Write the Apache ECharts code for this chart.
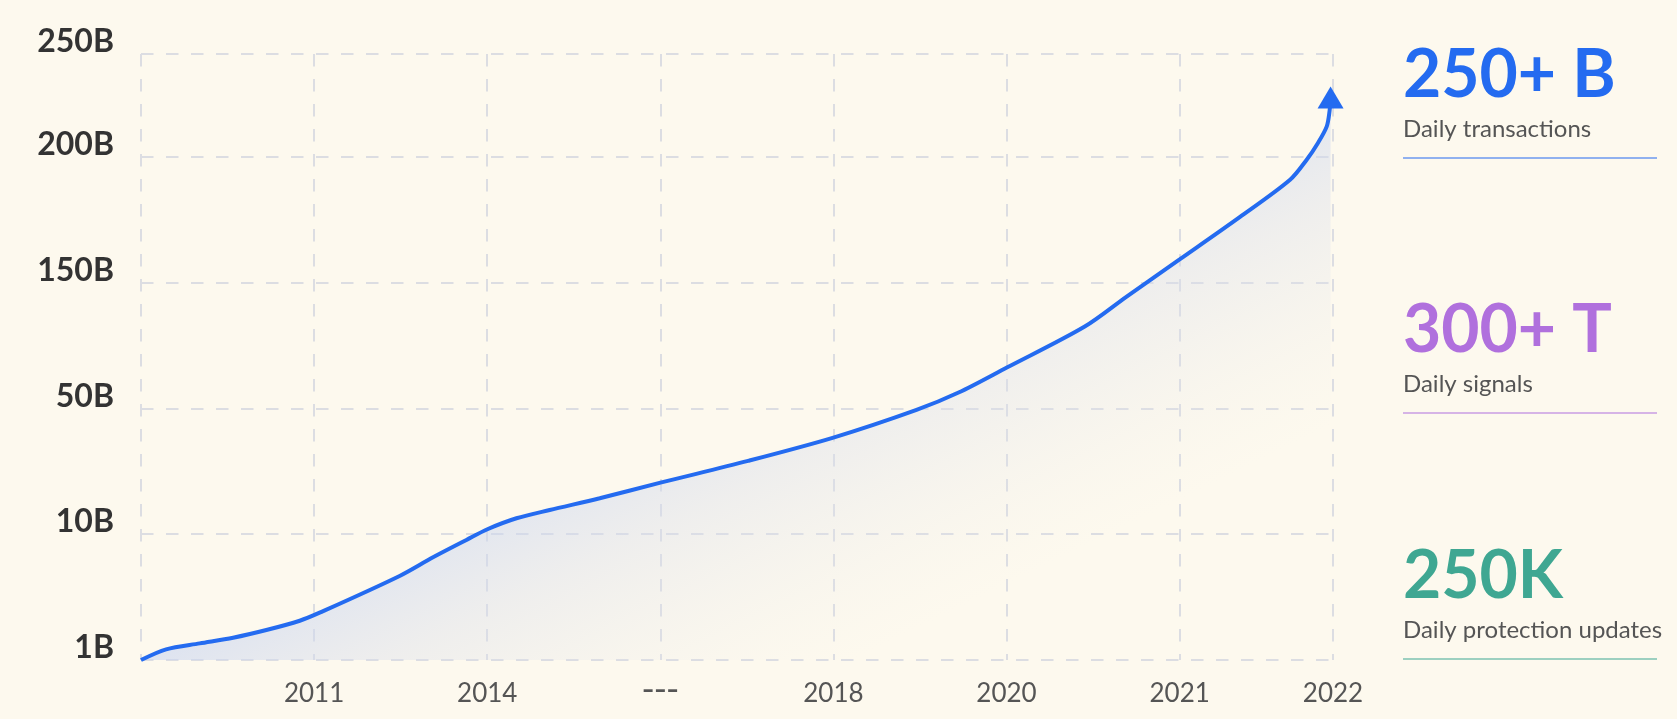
<!DOCTYPE html>
<html>
<head>
<meta charset="utf-8">
<title>Daily transactions growth</title>
<script src="https://cdn.jsdelivr.net/npm/echarts@6/dist/echarts.min.js"></script>
<style>
  html, body {
    margin: 0;
    padding: 0;
    background: #fdf9ee;
  }
  #chart {
    width: 1677px;
    height: 719px;
  }
</style>
</head>
<body>
<div id="chart"></div>
<script>
// tick labels (the axes are stylised: each grid step is one label, not a linear scale)
const xTickLabels = ['', '2011', '2014', '---', '2018', '2020', '2021', '2022']
const yTickLabels = ['1B', '10B', '50B', '150B', '200B', '250B']

// curve, in grid steps (x: step from left edge, y: step from bottom)
const growthX = [0, 0.145, 0.339, 0.532, 0.724, 0.917, 1.032, 1.494, 1.687, 1.88, 2.001, 2.169, 2.361, 2.65,
  3.001, 3.507, 4.0, 4.48, 4.723, 5.002, 5.452, 5.694, 6.002, 6.347, 6.638, 6.734, 6.8, 6.85, 6.866, 6.872]
const growthY = [0, 0.085, 0.132, 0.177, 0.238, 0.312, 0.376, 0.668, 0.816, 0.954, 1.039, 1.126, 1.192, 1.285,
  1.409, 1.582, 1.767, 1.987, 2.125, 2.324, 2.65, 2.888, 3.185, 3.519, 3.816, 3.975, 4.11, 4.24, 4.36, 4.47]

// side stats
const statValues = ['250+ B', '300+ T', '250K']
const statNames = ['Daily transactions', 'Daily signals', 'Daily protection updates']

const statColors = ['#246bf0', '#b070dd', '#3fa792']
const statTop = [75, 330, 576]

const chart = echarts.init(document.getElementById('chart'))

const lineData = growthX.map((x, i) => {
  if (i === growthX.length - 1) {
    return { value: [x, growthY[i]], symbol: 'triangle', symbolSize: [26, 22] }
  }
  return [x, growthY[i]]
})

const gridLine = {
  show: true,
  lineStyle: {
    color: '#dcdde2',
    width: 2,
    type: [12.5, 12.5]
  }
}

const graphics = []
statValues.forEach((v, i) => {
  graphics.push({
    type: 'text',
    left: 1403,
    top: statTop[i] - 32,
    style: {
      text: v,
      fill: statColors[i],
      font: 'bold 66px Lato',
    }
  })
  graphics.push({
    type: 'text',
    left: 1403,
    top: statTop[i] + 42,
    style: {
      text: statNames[i],
      fill: '#555555',
      font: '24px Lato'
    }
  })
  graphics.push({
    type: 'line',
    shape: { x1: 1403, y1: statTop[i] + 83, x2: 1657, y2: statTop[i] + 83 },
    style: { stroke: statColors[i], lineWidth: 1.2 }
  })
})

chart.setOption({
  backgroundColor: '#fdf9ee',
  animation: false,
  grid: {
    left: 141,
    right: 344,
    top: 54,
    bottom: 59
  },
  xAxis: {
    type: 'value',
    min: 0,
    max: 6.886,
    interval: 1,
    axisLine: { show: false },
    axisTick: { show: false },
    splitLine: gridLine,
    axisLabel: {
      showMinLabel: true,
      showMaxLabel: true,
      margin: 21,
      color: '#555555',
      fontSize: 26,
      fontFamily: 'Lato',
      formatter: (v, i) => {
        const t = xTickLabels[i] || ''
        return t === '---' ? '{dash|' + t + '}' : t
      },
      rich: {
        dash: {
          fontSize: 34,
          lineHeight: 20,
          fontFamily: 'DejaVu Sans',
          color: '#555555'
        }
      }
    }
  },
  yAxis: {
    type: 'value',
    min: 0,
    max: 4.815,
    interval: 1,
    axisLine: { show: false },
    axisTick: { show: false },
    splitLine: gridLine,
    axisLabel: {
      showMinLabel: true,
      showMaxLabel: true,
      margin: 27,
      verticalAlign: 'bottom',
      lineHeight: 24,
      color: '#333333',
      fontSize: 32,
      fontWeight: 'bold',
      fontFamily: 'Lato',
      formatter: (v, i) => yTickLabels[i] || ''
    }
  },
  graphic: graphics,
  series: [
    {
      type: 'line',
      data: lineData,
      smooth: 0.3,
      symbol: 'none',
      clip: false,
      silent: true,
      itemStyle: { color: '#246bf0' },
      lineStyle: { color: '#246bf0', width: 4 },
      areaStyle: {
        // iso-lines run along the diagonal of the filled area, fading towards the lower right
        color: new echarts.graphic.LinearGradient(0.312, -0.311, 0.688, 1.311, [
          { offset: 0.48, color: 'rgba(196, 210, 242, 0.85)' },
          { offset: 0.6, color: 'rgba(216, 221, 236, 0.55)' },
          { offset: 0.8, color: 'rgba(235, 235, 235, 0)' }
        ])
      }
    }
  ]
})
</script>
</body>
</html>
